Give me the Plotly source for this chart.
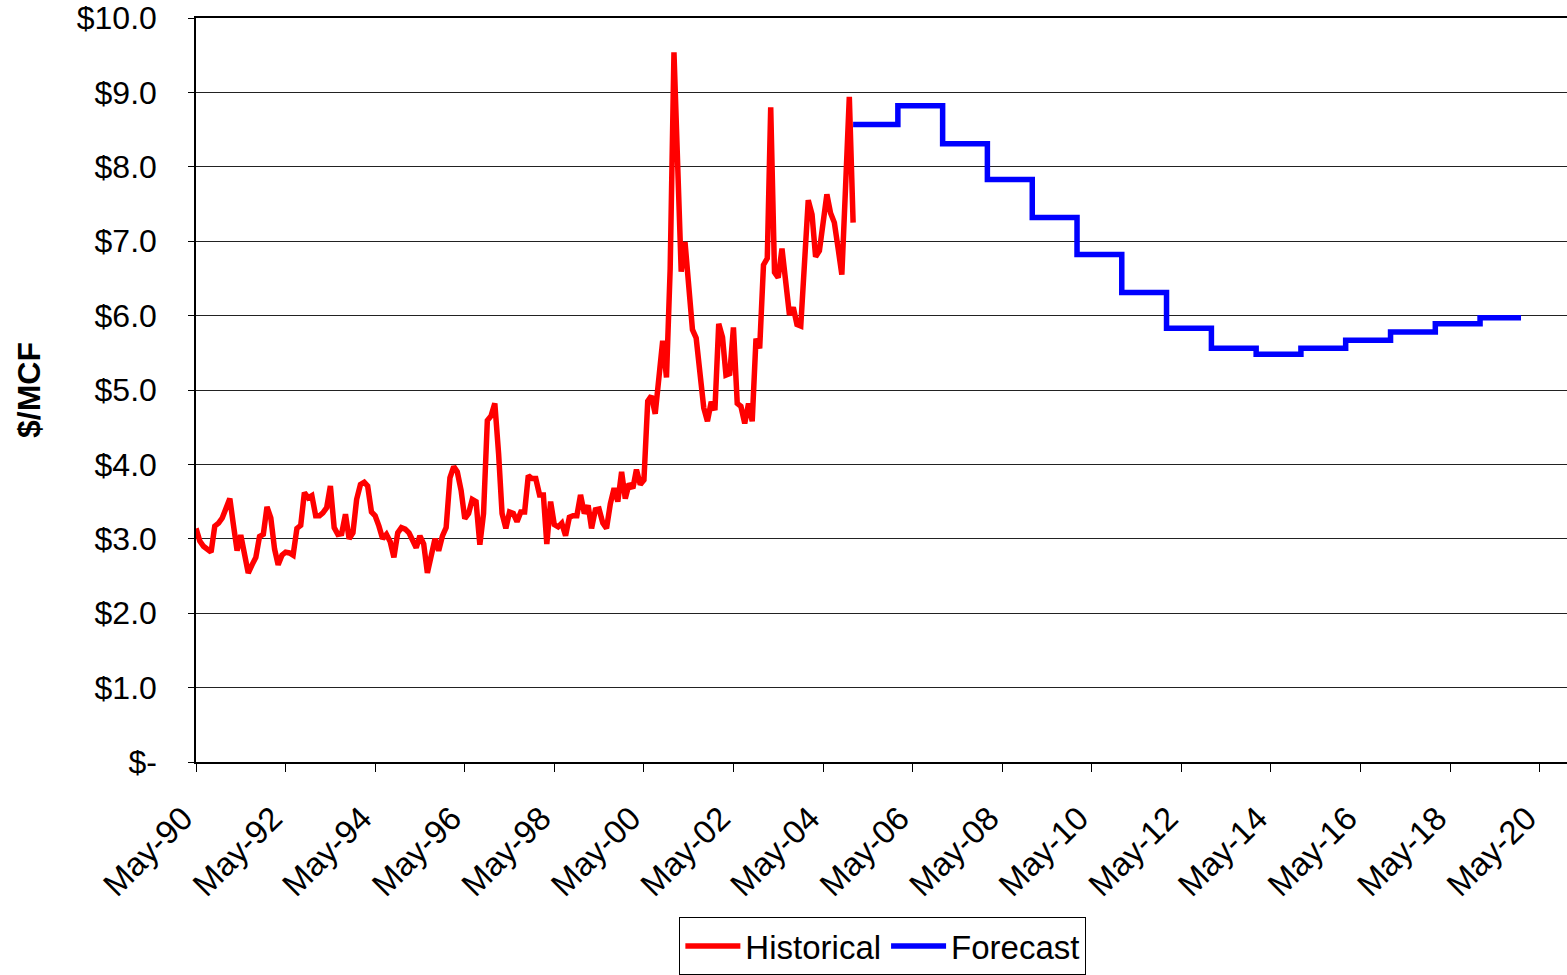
import plotly.graph_objects as go
import pandas as pd

# ---------------- data ----------------
hist_start = "1990-05-01"
hist_values = [
    3.14, 2.97, 2.90, 2.85, 2.82, 3.17, 3.21, 3.28, 3.40, 3.54,   # May-90 ..
    3.20, 2.84, 3.05, 2.75, 2.54, 2.65, 2.75, 3.03, 3.06, 3.43,
    3.28, 2.86, 2.65, 2.78, 2.82, 2.81, 2.78, 3.14, 3.18, 3.62,
    3.55, 3.58, 3.31, 3.31, 3.35, 3.42, 3.71, 3.15, 3.06, 3.07,
    3.33, 3.00, 3.08, 3.53, 3.73, 3.76, 3.71, 3.36, 3.31, 3.17,
    3.00, 3.06, 2.96, 2.75, 3.08, 3.15, 3.13, 3.08, 2.97, 2.88,
    3.04, 2.93, 2.54, 2.80, 3.00, 2.84, 3.04, 3.15, 3.82, 3.97,
    3.90, 3.65, 3.27, 3.34, 3.53, 3.50, 2.92, 3.34, 4.59, 4.65,
    4.82, 4.14, 3.34, 3.14, 3.36, 3.34, 3.23, 3.36, 3.36, 3.85,
    3.81, 3.81, 3.59, 3.59, 2.93, 3.50, 3.19, 3.16, 3.21, 3.04,
    3.29, 3.31, 3.31, 3.59, 3.34, 3.45, 3.14, 3.39, 3.40, 3.21,
    3.14, 3.47, 3.68, 3.50, 3.90, 3.54, 3.74, 3.68, 3.93, 3.73,
    3.79, 4.85, 4.92, 4.68, 5.19, 5.66, 5.17, 6.63, 9.54, 8.00,
    6.59, 6.99, 6.46, 5.81, 5.70, 5.29, 4.76, 4.58, 4.84, 4.73,
    5.89, 5.71, 5.20, 5.22, 5.84, 4.82, 4.78, 4.55, 4.82, 4.58,
    5.69, 5.56, 6.68, 6.77, 8.80, 6.58, 6.51, 6.90, 6.38, 6.01,
    6.11, 5.88, 5.86, 6.65, 7.55, 7.36, 6.79, 6.87, 7.23, 7.63,
    7.38, 7.25, 6.90, 6.55, 7.75, 8.94, 7.25,                    # .. Jan-05
]
hist_dates = pd.date_range(hist_start, periods=len(hist_values), freq="MS")

fc_years = list(range(2005, 2020))
fc_values = [8.57, 8.82, 8.31, 7.83, 7.32, 6.82, 6.31, 5.83,
             5.56, 5.48, 5.56, 5.67, 5.78, 5.89, 5.97]
fc_end = "2019-12-01"
fc_dates = [f"{y}-01-01" for y in fc_years] + [fc_end]
fc_plot = fc_values + [fc_values[-1]]

x_tick_dates = [f"{y}-05-01" for y in range(1990, 2021, 2)]
x_tick_labels = [f"May-{y % 100:02d}" for y in range(1990, 2021, 2)]
y_tick_vals = list(range(0, 11))
y_tick_labels = ["$-"] + [f"${v:.1f}" for v in range(1, 11)]

FONT = "Liberation Sans, Arial, sans-serif"
NB = "\u00a0"

fig = go.Figure()
fig.add_trace(go.Scatter(x=hist_dates, y=hist_values, mode="lines", name="Historical",
                         line=dict(color="#FF0000", width=5.5)))
fig.add_trace(go.Scatter(x=fc_dates, y=fc_plot, mode="lines", name="Forecast",
                         line=dict(color="#0000FF", width=5.5, shape="hv")))

fig.update_layout(
    width=1567, height=975,
    margin=dict(l=196, r=0, t=18, b=208),
    paper_bgcolor="white", plot_bgcolor="white",
    font=dict(family=FONT, color="black"),
    showlegend=True,
    legend=dict(orientation="h", x=0.501, xanchor="center", y=-0.2083, yanchor="top",
                bordercolor="black", borderwidth=1, font=dict(size=33, family=FONT),
                itemwidth=55, tracegroupgap=0),
)
fig.update_xaxes(
    type="date", range=["1990-05-01", "2020-12-10"], automargin=False,
    tickvals=x_tick_dates, ticktext=[t + NB * 2 for t in x_tick_labels], tickangle=-45,
    ticks="outside", ticklen=8, tickcolor="black", tickwidth=1,
    tickfont=dict(size=33, family=FONT, color="black"),
    ticklabelstandoff=1, ticklabeloverflow="allow",
    showline=True, linecolor="black", linewidth=1.5, mirror=True,
    showgrid=False, zeroline=False,
)
fig.update_yaxes(
    range=[0, 10], tickvals=y_tick_vals, ticktext=y_tick_labels, automargin=False,
    ticks="outside", ticklen=6, tickcolor="black", tickwidth=1,
    tickfont=dict(size=32, family=FONT, color="black"),
    ticklabelstandoff=25, ticklabeloverflow="allow",
    showline=True, linecolor="black", linewidth=1.5,
    showgrid=True, gridcolor="#222222", gridwidth=1, zeroline=False,
)
fig.add_annotation(
    text="<b>$/MCF</b>", textangle=-90, xref="paper", yref="paper",
    x=(29 - 196) / 1371, y=0.5, xanchor="center", yanchor="middle",
    showarrow=False, font=dict(size=32, family=FONT, color="black"),
)

# remove the browser's default 8px body margin so the figure fills the window exactly
fig.write_html("out.html", config={"displayModeBar": False},
               post_script="document.body.style.margin='0';")
